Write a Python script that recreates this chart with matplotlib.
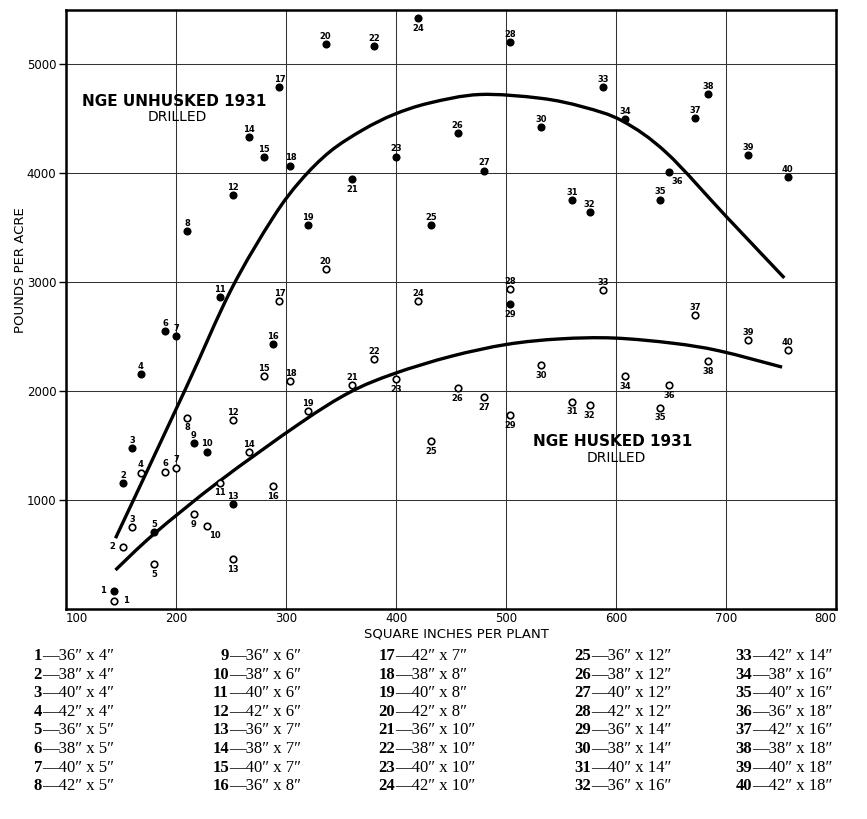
import matplotlib
matplotlib.use("Agg")
import matplotlib.pyplot as plt
from matplotlib.path import Path
from matplotlib.patches import PathPatch

# ---------------- data ----------------
plot_no = list(range(1, 41))
row_width = [36, 38, 40, 42, 36, 38, 40, 42, 36, 38, 40, 42, 36, 38, 40, 36, 42, 38, 40, 42,
             36, 38, 40, 42, 36, 38, 40, 42, 36, 38, 40, 36, 42, 38, 40, 36, 42, 38, 40, 42]
in_row = [4, 4, 4, 4, 5, 5, 5, 5, 6, 6, 6, 6, 7, 7, 7, 8, 7, 8, 8, 8,
          10, 10, 10, 10, 12, 12, 12, 12, 14, 14, 14, 16, 14, 16, 16, 18, 16, 18, 18, 18]
sq_inches = [144, 152, 160, 168, 180, 190, 200, 210, 216, 228, 240, 252, 252, 266, 280, 288, 294, 304, 320, 336,
             360, 380, 400, 420, 432, 456, 480, 504, 504, 532, 560, 576, 588, 608, 640, 648, 672, 684, 720, 756]
unhusked = [168, 1155, 1477, 2157, 710, 2555, 2503, 3468, 1523, 1446, 2861, 3799, 962, 4332, 4148, 2433, 4795, 4072, 3529, 5190,
            3949, 5165, 4154, 5429, 3529, 4372, 4026, 5205, 2803, 4424, 3756, 3646, 4795, 4501, 3759, 4017, 4510, 4727, 4167, 3964]
husked = [76, 573, 751, 1253, 414, 1262, 1299, 1758, 870, 766, 1161, 1737, 457, 1437, 2142, 1133, 2825, 2089, 1820, 3122,
          2059, 2298, 2114, 2825, 1544, 2028, 1946, 2941, 1783, 2243, 1905, 1875, 2932, 2135, 1850, 2059, 2702, 2273, 2472, 2374]

# trend curves: knots
unhusked_curve_x = [145, 208, 250, 288, 313, 340, 370, 398, 430, 476, 531, 570, 606, 646, 700, 753]
unhusked_curve_y = [650, 2006, 2930, 3590, 3930, 4200, 4400, 4540, 4645, 4724, 4690, 4610, 4480, 4188, 3606, 3040]
husked_curve_x = [145, 180, 239, 313, 358, 398, 450, 501, 549, 598, 652, 694, 751]
husked_curve_y = [358, 689, 1170, 1707, 1990, 2160, 2320, 2430, 2480, 2488, 2440, 2370, 2221]

x_ticks = [100, 200, 300, 400, 500, 600, 700, 800]
y_ticks = [1000, 2000, 3000, 4000, 5000]

# ---------------- label placement (style) ----------------
A, B, L, R, BR = (0, 5.5), (0, -7.5), (-6, 0), (6, 0), (6, -7)
filled_pos = {1: L, 21: B, 24: B, 29: B, 36: BR}
open_pos = {1: R, 2: L, 5: B, 8: B, 9: B, 10: BR, 11: B, 13: B, 16: B, 23: B, 25: B, 26: B,
            27: B, 29: B, 30: B, 31: B, 32: B, 34: B, 35: B, 36: B, 38: B}

W, H = 867, 819
fig = plt.figure(figsize=(W / 100, H / 100), dpi=100)
fig.patch.set_facecolor("white")
x0, x1, y0, y1 = 66, 836, 10, 609
ax = fig.add_axes([x0 / W, 1 - y1 / H, (x1 - x0) / W, (y1 - y0) / H])
ax.set_xlim(100, 800)
ax.set_ylim(0, 5500)
ax.set_xticks(x_ticks)
ax.set_yticks(y_ticks)
ax.set_xticklabels([str(v) for v in x_ticks])
ax.set_yticklabels([str(v) for v in y_ticks])
ax.grid(True, color="#333333", lw=0.75, zorder=0)
ax.set_axisbelow(True)
for s in ax.spines.values():
    s.set_linewidth(1.8)
ax.tick_params(axis="x", length=0, pad=2, labelsize=8.5)
ax.tick_params(axis="y", length=5, width=1, pad=2, labelsize=8.5, direction="out")
xl = ax.get_xticklabels()
xl[0].set_ha("left")
xl[-1].set_ha("right")


def smooth_path(xs, ys):
    # Catmull-Rom knots -> cubic Bezier segments drawn by matplotlib
    pts = list(zip(xs, ys))
    verts = [pts[0]]
    codes = [Path.MOVETO]
    n = len(pts)
    for i in range(n - 1):
        p0 = pts[i - 1] if i > 0 else pts[i]
        p1 = pts[i]
        p2 = pts[i + 1]
        p3 = pts[i + 2] if i + 2 < n else pts[i + 1]
        c1 = (p1[0] + (p2[0] - p0[0]) / 6.0, p1[1] + (p2[1] - p0[1]) / 6.0)
        c2 = (p2[0] - (p3[0] - p1[0]) / 6.0, p2[1] - (p3[1] - p1[1]) / 6.0)
        verts += [c1, c2, p2]
        codes += [Path.CURVE4, Path.CURVE4, Path.CURVE4]
    return Path(verts, codes)


for cx, cy in ((unhusked_curve_x, unhusked_curve_y), (husked_curve_x, husked_curve_y)):
    ax.add_patch(PathPatch(smooth_path(cx, cy), facecolor="none", edgecolor="black",
                           lw=2.4, zorder=2, capstyle="butt"))

ax.scatter(sq_inches, unhusked, s=34, color="black", zorder=3, linewidths=0)
ax.scatter(sq_inches, husked, s=22, facecolors="white", edgecolors="black", linewidths=1.2, zorder=3)

for n, xv, yu, yh in zip(plot_no, sq_inches, unhusked, husked):
    for yv, pos in ((yu, filled_pos.get(n, A)), (yh, open_pos.get(n, A))):
        ha = "center"
        if pos == L:
            ha = "right"
        elif pos == R:
            ha = "left"
        ax.annotate(str(n), (xv, yv), xytext=pos, textcoords="offset points",
                    ha=ha, va="center", fontsize=6, fontweight="bold", zorder=4)


def ftext(px, py, s, **kw):
    fig.text(px / W, 1 - py / H, s, **kw)


ftext(174, 102, "NGE UNHUSKED 1931", ha="center", va="center", fontsize=11, fontweight="bold")
ftext(177, 117, "DRILLED", ha="center", va="center", fontsize=10)
ftext(613, 442, "NGE HUSKED 1931", ha="center", va="center", fontsize=11, fontweight="bold")
ftext(616, 458, "DRILLED", ha="center", va="center", fontsize=10)
ftext(21, 270, "POUNDS PER ACRE", ha="center", va="center", fontsize=9.5, rotation=90)
ftext(456, 634, "SQUARE INCHES PER PLANT", ha="center", va="center", fontsize=9.5)

# ---------------- key table ----------------
serif = ["Liberation Serif", "DejaVu Serif"]
col_dash_x = [42, 229, 395, 591, 752]
row_y0, row_dy = 656, 18.6
for i, (n, w, s) in enumerate(zip(plot_no, row_width, in_row)):
    c, r = divmod(i, 8)
    px = col_dash_x[c]
    py = row_y0 + r * row_dy
    ftext(px, py, str(n), ha="right", va="center", fontsize=12, fontweight="bold", family=serif)
    ftext(px, py, "\u2014%d\u2033 x %d\u2033" % (w, s), ha="left", va="center", fontsize=12, family=serif)

fig.savefig("out.png", dpi=100)
